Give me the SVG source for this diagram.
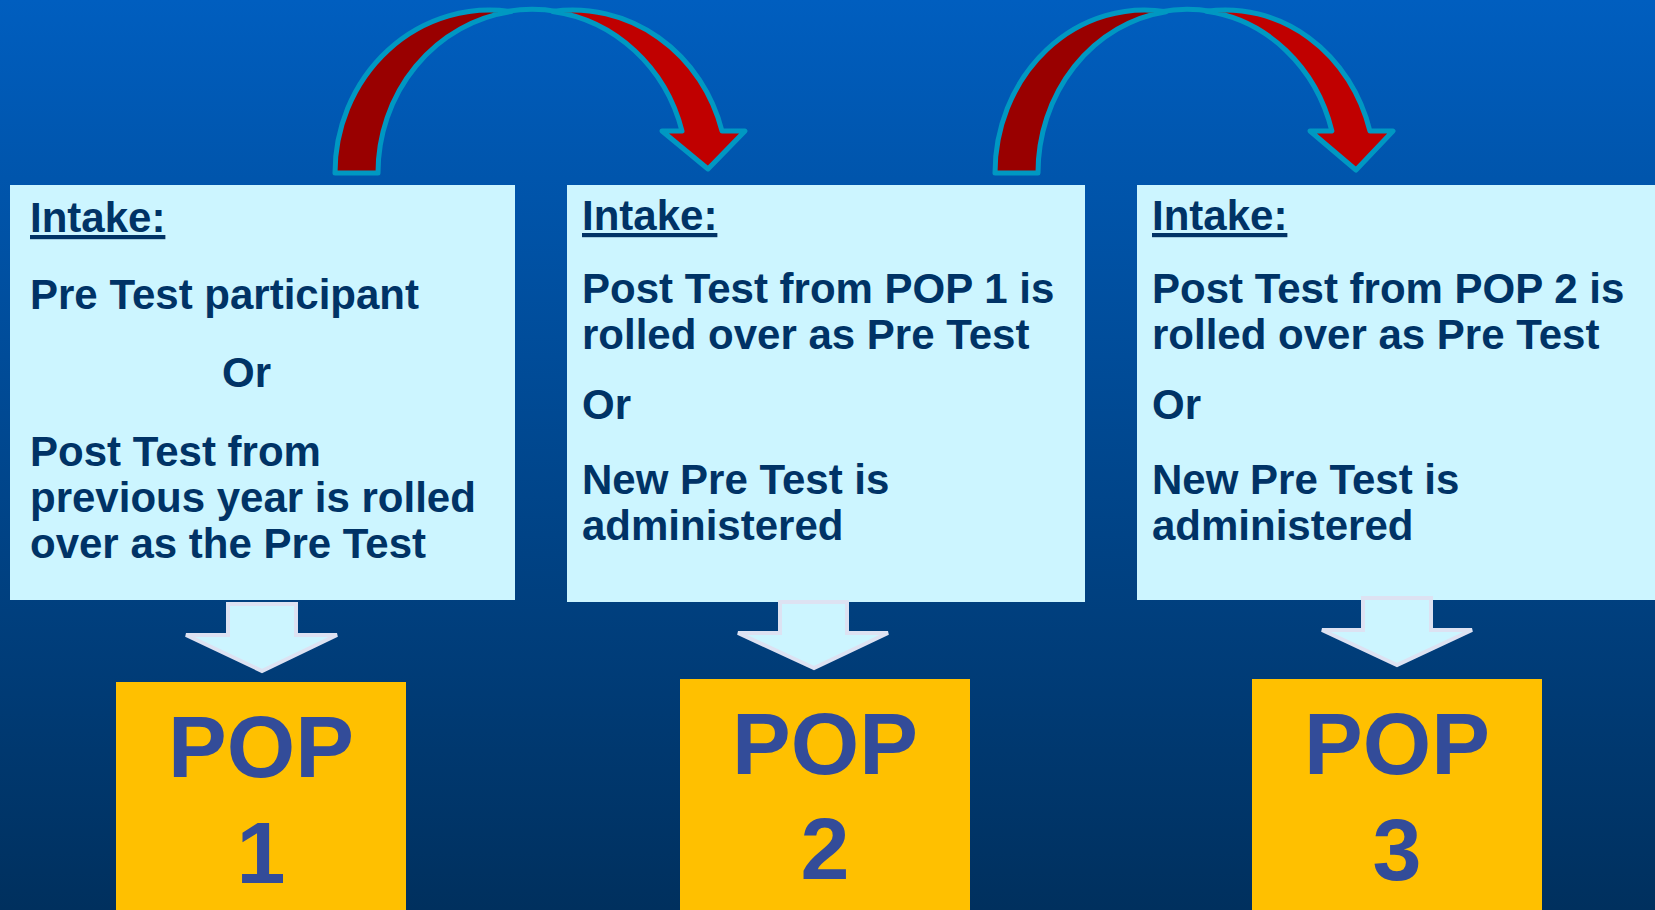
<svg xmlns="http://www.w3.org/2000/svg" width="1655" height="910" viewBox="0 0 1655 910">
<defs>
<linearGradient id="bg" x1="0" y1="0" x2="0" y2="1">
<stop offset="0" stop-color="#005EBF"/>
<stop offset="1" stop-color="#00305E"/>
</linearGradient>
</defs>
<style>
.box{fill:#CCF5FF}
.t{font-family:"Liberation Sans",Arial,sans-serif;font-weight:bold;font-size:42px;fill:#003366}
.u{text-decoration:underline}
.pop{fill:#FFC000}
.pt{font-family:"Liberation Sans",Arial,sans-serif;font-weight:bold;font-size:88px;fill:#334C99;text-anchor:middle}
.dn{fill:#CCF5FF;stroke:#DDE2F2;stroke-width:4;stroke-linejoin:miter}
.cd{fill:#990000;stroke:#0098C2;stroke-width:5;stroke-linejoin:round}
.cl{fill:#C00000;stroke:#0098C2;stroke-width:5;stroke-linejoin:round}
.ct{fill:none;stroke:#0098C2;stroke-width:5;stroke-linecap:round}
</style>
<rect x="0" y="0" width="1655" height="910" fill="url(#bg)"/>

<g id="intake1">
<rect class="box" x="10" y="185" width="505" height="415"/>
<text class="t u" x="30" y="232">Intake:</text>
<text class="t" x="30" y="309">Pre Test participant</text>
<text class="t" x="222" y="387">Or</text>
<text class="t" x="30" y="466">Post Test from</text>
<text class="t" x="30" y="512">previous year is rolled</text>
<text class="t" x="30" y="558">over as the Pre Test</text>
</g>

<g id="intake2">
<rect class="box" x="567" y="185" width="518" height="417"/>
<text class="t u" x="582" y="230">Intake:</text>
<text class="t" x="582" y="303">Post Test from POP 1 is</text>
<text class="t" x="582" y="349">rolled over as Pre Test</text>
<text class="t" x="582" y="419">Or</text>
<text class="t" x="582" y="494">New Pre Test is</text>
<text class="t" x="582" y="540">administered</text>
</g>

<g id="intake3">
<rect class="box" x="1137" y="185" width="518" height="415"/>
<text class="t u" x="1152" y="230">Intake:</text>
<text class="t" x="1152" y="303">Post Test from POP 2 is</text>
<text class="t" x="1152" y="349">rolled over as Pre Test</text>
<text class="t" x="1152" y="419">Or</text>
<text class="t" x="1152" y="494">New Pre Test is</text>
<text class="t" x="1152" y="540">administered</text>
</g>

<g id="pop1">
<rect class="pop" x="116" y="682" width="290" height="228"/>
<text class="pt" x="261" y="777">POP</text>
<text class="pt" x="261" y="883">1</text>
</g>

<g id="pop2">
<rect class="pop" x="680" y="679" width="290" height="231"/>
<text class="pt" x="825" y="774">POP</text>
<text class="pt" x="825" y="879">2</text>
</g>

<g id="pop3">
<rect class="pop" x="1252" y="679" width="290" height="231"/>
<text class="pt" x="1397" y="774">POP</text>
<text class="pt" x="1397" y="880">3</text>
</g>

<g id="connectors">
<polygon class="dn" points="228,604 296,604 296,635 337,635 262,671 186,635 228,635"/>
<polygon class="dn" points="780,602 847,602 847,633 888,633 814,668 738,633 780,633"/>
<polygon class="dn" points="1363,598 1431,598 1431,630 1472,630 1397,665 1322,630 1363,630"/>

<path class="cd" d="M335,173 A154.6,163 0 0 1 511,11.6 A154.6,163 0 0 0 378,173 Z"/>
<path class="cl" d="M552.6,11.4 A154.6,163 0 0 1 682,131 L662,131 L708,169 L745,131 L722,131 A154.6,163 0 0 0 552.6,11.4 Z"/>
<path class="ct" d="M505,11.8 A154.6,163 0 0 1 558,11.6"/>

<path class="cd" d="M995,173 A149.5,163 0 0 1 1166,11.7 A149.5,163 0 0 0 1038,173 Z"/>
<path class="cl" d="M1206.5,11.3 A149.5,163 0 0 1 1331.9,131 L1310,131 L1356,170 L1393,131 L1369.9,131 A149.5,163 0 0 0 1206.5,11.3 Z"/>
<path class="ct" d="M1160,11.9 A149.5,163 0 0 1 1212,11.5"/>
</g>
</svg>
